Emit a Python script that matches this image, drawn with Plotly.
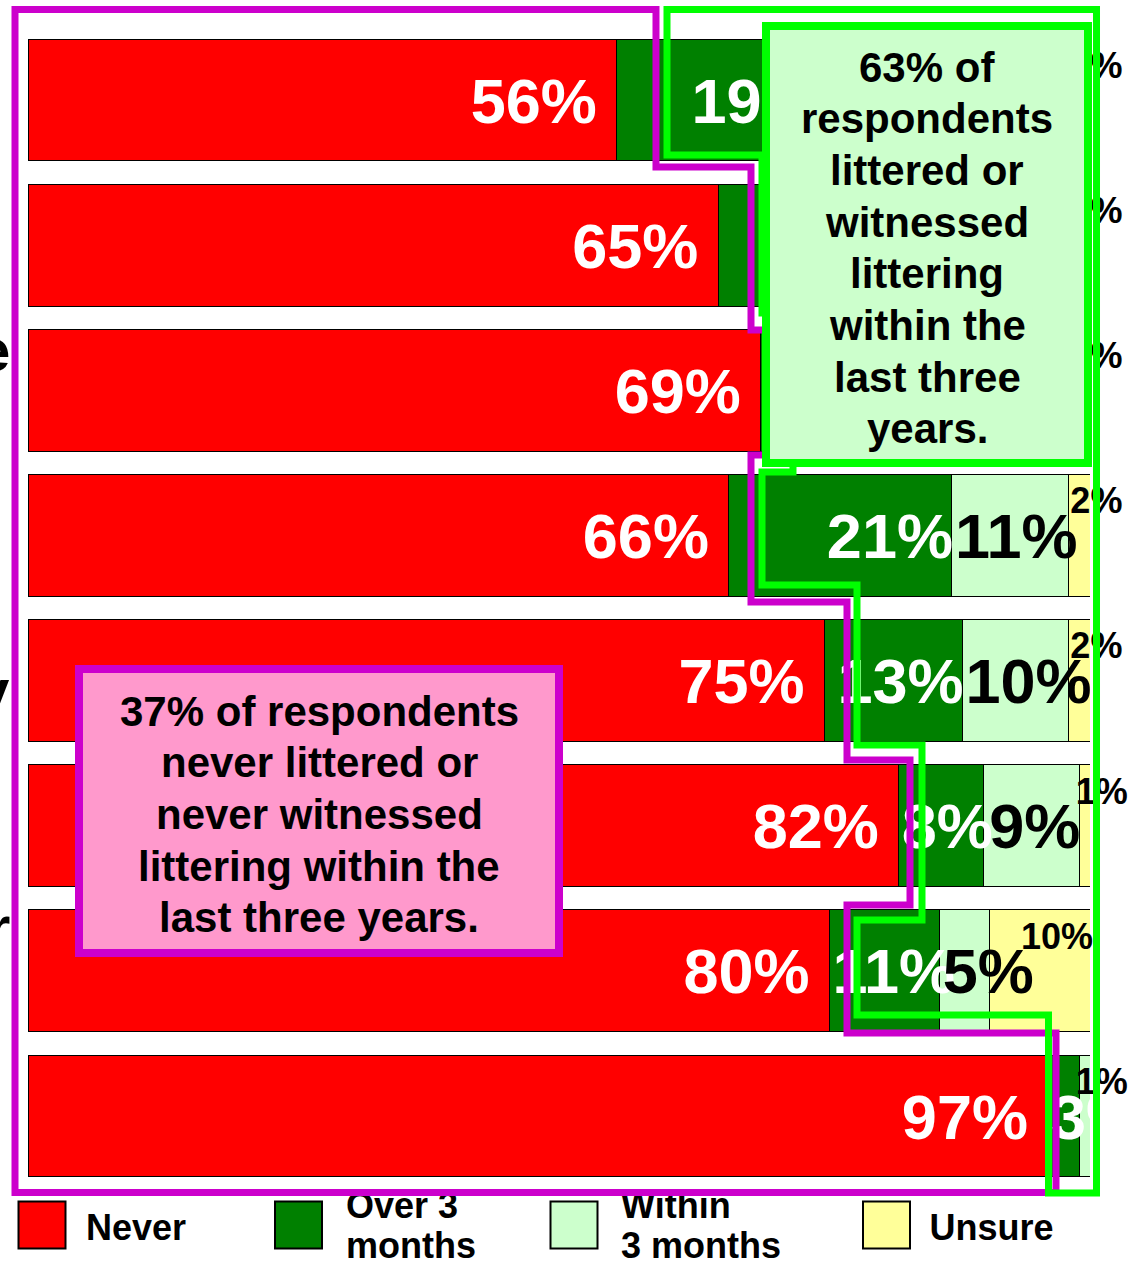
import plotly.graph_objects as go

# ---------------- data ----------------
rows = [0, 1, 2, 3, 4, 5, 6, 7]
never = [56, 65, 69, 66, 75, 82, 80, 97]
over_3_months = [19, 18, 15, 21, 13, 8, 11, 3]
within_3_months = [24, 15, 14, 11, 10, 9, 5, 1]
unsure = [2, 2, 2, 2, 2, 1, 10, 0]
series_names = ["Never", "Over 3 months", "Within 3 months", "Unsure"]
legend_lines = [["Never"], ["Over 3", "months"], ["Within", "3 months"], ["Unsure"]]
row_label_fragments = {2: "e", 4: "y", 6: "r"}
note_littered = ["63% of", "respondents", "littered or", "witnessed", "littering",
                 "within the", "last three", "years."]
note_never = ["37% of respondents", "never littered or", "never witnessed",
              "littering within the", "last three years."]

# ---------------- geometry / style ----------------
W, H = 1139, 1261
PX0, PX1 = 28.0, 1090.0          # plot area left/right (px)
PY0, PY1 = 27.4, 1188.6          # plot area top/bottom (px)
N = len(rows)
ROW_PX = (PY1 - PY0) / N
UNIT_PX = (PX1 - PX0) / 100.0
FONT = "Liberation Sans, Arial, Helvetica, sans-serif"
COLORS = ["#ff0000", "#008000", "#ccffcc", "#ffff99"]
MAGENTA, LIME = "#cc00cc", "#00ff00"
BIG, SMALL = 63, 36

series = [never, over_3_months, within_3_months, unsure]


def px(x):
    return x / W


def py(y):
    return 1 - y / H


def text_width(s, size):
    w = {"%": 0.889, " ": 0.278}
    return sum(w.get(c, 0.556) for c in s) * size


fig = go.Figure()

# stacked bars, each row normalised to 100 %
for name, vals, col in zip(series_names, series, COLORS):
    fig.add_trace(go.Bar(
        y=rows, x=vals, orientation="h", name=name,
        marker=dict(color=col, line=dict(color="black", width=1)),
        showlegend=False, hoverinfo="skip", xaxis="x", yaxis="y"))

# ---------------- data labels ----------------
groups = {}


def add_label(key, x, y, t):
    g = groups.setdefault(key, {"x": [], "y": [], "t": []})
    g["x"].append(x)
    g["y"].append(y)
    g["t"].append(t)


for i in rows:
    vals = [s[i] for s in series]
    total = float(sum(vals))
    a = 0.0
    for j, v in enumerate(vals):
        share = v / total * 100.0
        b = a + share
        t = f"{v}%"
        big_y = i + 0.108 * BIG / ROW_PX
        if j == 0:
            add_label((j, "middle left", "white", BIG), b - 20 / UNIT_PX, big_y, t)
        elif j in (1, 2) and not (j == 2 and v < 2):
            color = "white" if j == 1 else "black"
            if text_width(t, BIG) <= share * UNIT_PX:
                add_label((j, "middle left", color, BIG), b + 1 / UNIT_PX, big_y, t)
            else:
                add_label((j, "middle right", color, BIG), a + 3 / UNIT_PX, big_y, t)
        elif v > 0:
            # small label above the segment, its left edge kept inside the axis range
            sx = (a + b) / 2 + (17 - text_width(t, SMALL) / 2) / UNIT_PX
            sy = i + (-35 + 0.108 * SMALL) / ROW_PX
            add_label((j, "middle right", "black", SMALL), sx, sy, t)
        a = b

for key in sorted(groups, key=lambda k: k[0]):
    j, pos, color, size = key
    g = groups[key]
    fig.add_trace(go.Scatter(
        x=g["x"], y=g["y"], text=g["t"], mode="text", textposition=pos,
        textfont=dict(family=FONT, size=size, color=color, weight="bold"),
        cliponaxis=False, showlegend=False, hoverinfo="skip",
        xaxis="x", yaxis="y"))

# ---------------- custom legend (own clipped strip) ----------------
legend_sq_x = [42, 298.5, 574, 886.5]
fig.add_trace(go.Scatter(
    x=legend_sq_x, y=[1225] * 4, mode="markers",
    marker=dict(symbol="square", size=47, color=COLORS,
                line=dict(color="black", width=2)),
    showlegend=False, hoverinfo="skip", xaxis="x2", yaxis="y2"))
leg_x, leg_y, leg_t = [], [], []
leg_text_x = [86, 346, 621, 929.5]
for lines, lx in zip(legend_lines, leg_text_x):
    if len(lines) == 1:
        leg_x.append(lx); leg_y.append(1231); leg_t.append(lines[0])
    else:
        leg_x += [lx, lx]; leg_y += [1209, 1249]; leg_t += lines
fig.add_trace(go.Scatter(
    x=leg_x, y=leg_y, text=leg_t, mode="text", textposition="middle right",
    textfont=dict(family=FONT, size=36, color="black", weight="bold"),
    cliponaxis=True, showlegend=False, hoverinfo="skip",
    xaxis="x2", yaxis="y2"))

# ---------------- outlines and call-out boxes ----------------
def paper_path(points):
    return "M " + " L ".join(f"{px(x):.5f},{py(y):.5f}" for x, y in points) + " Z"


magenta_pts = [(15, 9.5), (656, 9.5), (656, 167), (751, 167), (751, 330),
               (775, 330), (775, 455), (751, 455), (751, 602), (847, 602),
               (847, 760), (910, 760), (910, 905), (847, 905), (847, 1033),
               (1056, 1033), (1056, 1192.5), (15, 1192.5)]
green_pts = [(667, 9.5), (1096.5, 9.5), (1096.5, 1193), (1048.5, 1193),
             (1048.5, 1015), (857, 1015), (857, 920), (922, 920), (922, 745),
             (857, 745), (857, 585), (762, 585), (762, 472), (793, 472),
             (793, 313), (762, 313), (762, 155), (667, 155)]

shapes = [
    dict(type="path", xref="paper", yref="paper", path=paper_path(magenta_pts),
         line=dict(color=MAGENTA, width=7), layer="above"),
    dict(type="path", xref="paper", yref="paper", path=paper_path(green_pts),
         line=dict(color=LIME, width=7), layer="above"),
    dict(type="rect", xref="paper", yref="paper", x0=px(766), x1=px(1088),
         y0=py(463), y1=py(26), fillcolor="#ccffcc",
         line=dict(color=LIME, width=8), layer="above"),
    dict(type="rect", xref="paper", yref="paper", x0=px(79), x1=px(559),
         y0=py(953), y1=py(669), fillcolor="#ff99cc",
         line=dict(color=MAGENTA, width=8), layer="above"),
]

annotations = []


def add_note(lines, cx, first_cy, pitch):
    for k, line in enumerate(lines):
        annotations.append(dict(
            xref="paper", yref="paper", x=px(cx), y=py(first_cy + k * pitch),
            text=line, showarrow=False, xanchor="center", yanchor="middle",
            font=dict(family=FONT, size=42, color="black", weight="bold")))


add_note(note_littered, 927, 67, 51.7)
add_note(note_never, 319, 711, 51.7)

frag_offset = {2: -40, 4: 10, 6: -43}
for i, frag in row_label_fragments.items():
    cy = PY0 + (i + 0.5) * ROW_PX + frag_offset[i]
    annotations.append(dict(
        xref="paper", yref="paper", x=px(12), y=py(cy), text=frag,
        showarrow=False, xanchor="right", yanchor="middle",
        font=dict(family=FONT, size=60, color="black", weight="bold")))

fig.update_layout(
    width=W, height=H,
    margin=dict(l=0, r=0, t=0, b=0, pad=0),
    paper_bgcolor="white", plot_bgcolor="white",
    barmode="stack", barnorm="percent", bargap=0.16,
    showlegend=False,
    xaxis=dict(domain=[px(PX0), px(PX1)], range=[0, 100], visible=False,
               fixedrange=True),
    yaxis=dict(domain=[py(PY1), py(PY0)], range=[N - 0.5, -0.5],
               visible=False, fixedrange=True),
    xaxis2=dict(domain=[0, 1], range=[0, W], visible=False, anchor="y2",
                fixedrange=True),
    yaxis2=dict(domain=[0, py(1193)], range=[H, 1193], visible=False,
                anchor="x2", fixedrange=True),
    shapes=shapes,
    annotations=annotations,
)

fig.write_html(
    "out.html",
    config={"displayModeBar": False},
    post_script="document.body.style.margin='0';document.body.style.overflow='hidden';",
)
